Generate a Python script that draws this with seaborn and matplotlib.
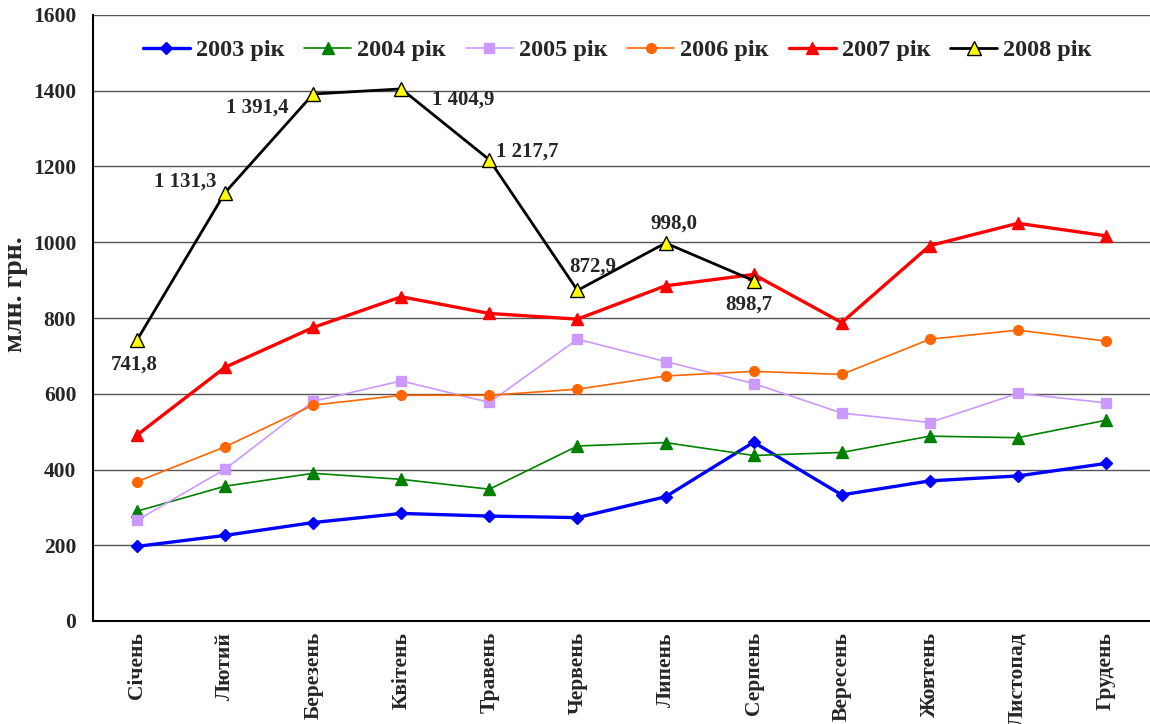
import matplotlib
matplotlib.use("Agg")
import matplotlib.pyplot as plt
import seaborn as sns
import numpy as np
import pandas as pd

months = ["Січень", "Лютий", "Березень", "Квітень", "Травень", "Червень",
          "Липень", "Серпень", "Вересень", "Жовтень", "Листопад", "Грудень"]

y2003 = [197, 226, 260, 284, 277, 273, 328, 472, 333, 370, 383, 416]
y2004 = [290, 356, 390, 374, 348, 462, 471, 437, 445, 488, 484, 530]
y2005 = [266, 401, 580, 634, 577, 744, 685, 627, 549, 524, 601, 576]
y2006 = [368, 460, 570, 596, 596, 612, 647, 659, 651, 744, 768, 739]
y2007 = [491, 670, 775, 856, 812, 797, 885, 915, 788, 991, 1050, 1017]
y2008 = [741.8, 1131.3, 1391.4, 1404.9, 1217.7, 872.9, 998.0, 898.7]

labels_2008 = ["741,8", "1 131,3", "1 391,4", "1 404,9", "1 217,7", "872,9", "998,0", "898,7"]

series_names = ["2003 рік", "2004 рік", "2005 рік", "2006 рік", "2007 рік", "2008 рік"]
series_vals = [y2003, y2004, y2005, y2006, y2007, y2008]

styles = [
    dict(color="#0000FF", lw=2.4, marker="D", ms=6.5, mfc="#0000FF", mec="#0000FF"),
    dict(color="#008000", lw=1.2, marker="^", ms=8, mfc="#008000", mec="#008000"),
    dict(color="#CC99FF", lw=1.2, marker="s", ms=7, mfc="#CC99FF", mec="#CC99FF"),
    dict(color="#FF6600", lw=1.2, marker="o", ms=7, mfc="#FF6600", mec="#FF6600"),
    dict(color="#FF0000", lw=2.4, marker="^", ms=8.5, mfc="#FF0000", mec="#FF0000"),
    dict(color="#000000", lw=2.0, marker="^", ms=10, mfc="#FFFF00", mec="#000000"),
]

sns.set_style("white")
plt.rcParams["font.family"] = ["Liberation Serif", "DejaVu Serif"]
plt.rcParams["font.weight"] = "bold"

fig = plt.figure(figsize=(11.5, 7.24), dpi=100)
ax = fig.add_axes([93 / 1150, 103 / 724, 1057 / 1150, 606 / 724])

for name, vals, st in zip(series_names, series_vals, styles):
    df = pd.DataFrame({"x": np.arange(len(vals)), "y": vals})
    sns.lineplot(data=df, x="x", y="y", ax=ax, color=st["color"], linewidth=st["lw"],
                 marker=st["marker"], markersize=st["ms"], markerfacecolor=st["mfc"],
                 markeredgecolor=st["mec"], markeredgewidth=1.0, label=name, zorder=3)

# labels for 2008
offsets = [(-3, -25), (-40, 11), (-56, -14), (62, -11), (38, 8), (15, 24), (8, 19), (-5, -24)]
for i, (v, lab) in enumerate(zip(y2008, labels_2008)):
    ax.annotate(lab, xy=(i, v), xytext=offsets[i], textcoords="offset pixels",
                ha="center", va="center", fontsize=15, fontweight="bold", zorder=5)

ax.set_xlim(-0.5, 11.5)
ax.set_ylim(0, 1600)
ax.set_yticks(np.arange(0, 1601, 200))
ax.set_yticklabels([str(v) for v in range(0, 1601, 200)], fontsize=15.5, fontweight="bold")
ax.yaxis.grid(True, color="#555555", linewidth=1.0)
ax.set_axisbelow(True)

ax.set_xticks(np.arange(12))
ax.set_xticklabels(months, rotation=90, fontsize=15.5, fontweight="bold", va="top", ha="center")
ax.set_xticks(np.arange(-0.5, 12.0, 1.0), minor=True)
ax.tick_params(axis="x", which="major", length=0, pad=8)
ax.tick_params(axis="x", which="minor", length=5, width=1, color="black", direction="out")
ax.tick_params(axis="y", which="major", length=6, width=1, color="black", direction="out", pad=6)

for s in ["top", "right"]:
    ax.spines[s].set_visible(False)
for s in ["left", "bottom"]:
    ax.spines[s].set_color("black")
    ax.spines[s].set_linewidth(1.5)

ax.set_xlabel("")
ax.set_ylabel("млн. грн.", fontsize=20, fontweight="bold")
ax.yaxis.set_label_coords(-0.0615, 0.54)

ax.legend(loc="center", bbox_to_anchor=(0.496, 0.942), ncol=6, frameon=False,
          prop={"family": "Liberation Serif", "weight": "bold", "size": 17.5},
          handlelength=1.93, handletextpad=0.25, columnspacing=0.82)

fig.savefig("out.png", dpi=100)
